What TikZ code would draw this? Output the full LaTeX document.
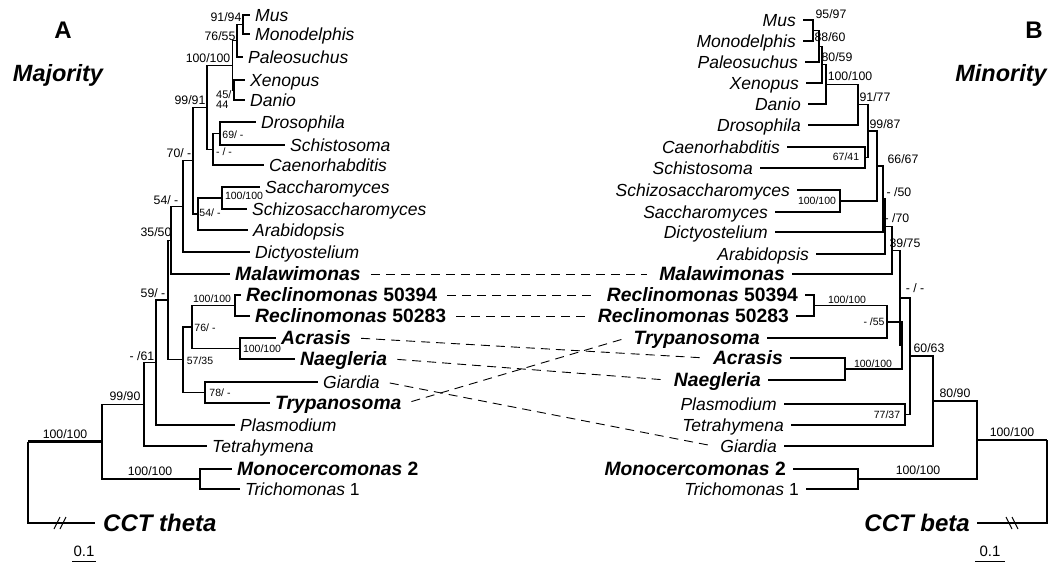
\documentclass[tikz,border=0pt]{standalone}
\usepackage{fontspec}
\setmainfont{Liberation Sans}
\begin{document}
\begin{tikzpicture}[x=1pt,y=-1pt,
  br/.style={line width=1.3pt},
  brthick/.style={line width=2.4pt},
  lf/.style={inner xsep=5pt, inner ysep=0pt, text height=12.5pt, text depth=0pt, font=\fontsize{17.5}{18}\selectfont\itshape},
  lfb/.style={inner xsep=5pt, inner ysep=0pt, text height=13.8pt, text depth=0pt, font=\fontsize{19.3}{20}\selectfont\bfseries\itshape},
  cct/.style={inner xsep=8pt, inner ysep=0pt, text height=17pt, text depth=0pt, font=\fontsize{24}{25}\selectfont\bfseries\itshape},
  atL/.style={anchor=west},
  atR/.style={anchor=east, inner xsep=7pt},
  bs/.style={inner sep=0pt, font=\fontsize{12.3}{13}\selectfont},
  bss/.style={inner sep=0pt, font=\fontsize{10.5}{11}\selectfont},
  sbar/.style={inner sep=0pt, font=\fontsize{15}{16}\selectfont},
  ttl/.style={inner sep=0pt, font=\fontsize{24}{25}\selectfont\bfseries},
  ttli/.style={inner sep=0pt, font=\fontsize{23.5}{24}\selectfont\bfseries\itshape},
  dl/.style={line width=0.9pt, dash pattern=on 9pt off 6pt, shorten <=5pt, shorten >=5pt},
  brk/.style={line width=1pt}
]
\useasboundingbox (0,0) rectangle (1061,566);

% ---------- titles ----------
\node[ttl] (tA) at (63,30) {A};
\node[ttli] (tMaj) at (58,75) {Majority};
\node[ttl] (tB) at (1034,30) {B};
\node[ttli] (tMin) at (1001,75) {Minority};

% ---------- left leaves ----------
\node[lf,atL] (lMus) at (250,15) {Mus};
\node[lf,atL] (lMon) at (250,34) {Monodelphis};
\node[lf,atL] (lPal) at (243,57) {Paleosuchus};
\node[lf,atL] (lXen) at (245,80) {Xenopus};
\node[lf,atL] (lDan) at (245,100) {Danio};
\node[lf,atL] (lDro) at (256,122) {Drosophila};
\node[lf,atL] (lSch) at (285,145) {Schistosoma};
\node[lf,atL] (lCae) at (264,165) {Caenorhabditis};
\node[lf,atL] (lSac) at (260,187) {Saccharomyces};
\node[lf,atL] (lSzs) at (247,209) {Schizosaccharomyces};
\node[lf,atL] (lAra) at (248,230) {Arabidopsis};
\node[lf,atL] (lDic) at (250,252) {Dictyostelium};
\node[lfb,atL] (lMal) at (230,274) {Malawimonas};
\node[lfb,atL] (lRe4) at (241,295) {Reclinomonas \upshape 50394};
\node[lfb,atL] (lRe3) at (250,316) {Reclinomonas \upshape 50283};
\node[lfb,atL] (lAcr) at (276,338) {Acrasis};
\node[lfb,atL] (lNae) at (295,359) {Naegleria};
\node[lf,atL] (lGia) at (318,382) {Giardia};
\node[lfb,atL] (lTry) at (270,403) {Trypanosoma};
\node[lf,atL] (lPla) at (235,425) {Plasmodium};
\node[lf,atL] (lTet) at (207,446) {Tetrahymena};
\node[lfb,atL] (lMoc) at (232,469) {Monocercomonas \upshape 2};
\node[lf,atL] (lTri) at (240,489) {Trichomonas \upshape 1};
\node[cct,atL] (lCCT) at (95,523) {CCT theta};

% ---------- left internal nodes ----------
\coordinate (L1) at (243,24.5);
\coordinate (L2) at (237,40.8);
\coordinate (L3) at (234,90);
\coordinate (L4) at (232.5,65.4);
\coordinate (L5) at (220,133.5);
\coordinate (L6) at (213,149.3);
\coordinate (L7) at (207,107.3);
\coordinate (L8) at (222,198);
\coordinate (L9) at (198,214);
\coordinate (L10) at (193,160.6);
\coordinate (L11) at (183,206.3);
\coordinate (L12) at (171,240.2);
\coordinate (L13) at (235,305.5);
\coordinate (L14) at (240,348.5);
\coordinate (L15) at (192,327);
\coordinate (L16) at (205,392.5);
\coordinate (L17) at (183,359.7);
\coordinate (L18) at (168,300);
\coordinate (L19) at (156,362.5);
\coordinate (L20) at (144,404.2);
\coordinate (L21) at (200,479);
\coordinate (L22) at (102,441.6);
\coordinate (L23) at (28,441.6);

\foreach \p/\c in {L1/lMus.west, L1/lMon.west, L2/L1, L2/lPal.west,
  L3/lXen.west, L3/lDan.west, L4/L2, L4/L3, L5/lDro.west, L5/lSch.west,
  L6/L5, L6/lCae.west, L7/L4, L7/L6, L8/lSac.west, L8/lSzs.west,
  L9/L8, L9/lAra.west, L10/L7, L10/L9, L11/L10, L11/lDic.west,
  L12/L11, L12/lMal.west, L13/lRe4.west, L13/lRe3.west,
  L14/lAcr.west, L14/lNae.west, L15/L13, L15/L14, L16/lGia.west, L16/lTry.west,
  L17/L15, L17/L16, L18/L12, L18/L17, L19/L18, L19/lPla.west,
  L20/L19, L20/lTet.west, L21/lMoc.west, L21/lTri.west, L22/L20, L22/L21,
  L23/lCCT.west}
  \draw[br] (\p) |- (\c);
\draw[brthick] (L23) -- (L22);

% break mark left
\coordinate (bkL) at (61,523);
\draw[brk] ([shift={(-7,6)}]bkL) -- ([shift={(-1,-6)}]bkL);
\draw[brk] ([shift={(-1,6)}]bkL) -- ([shift={(5,-6)}]bkL);

% ---------- left support values ----------
\node[bs] (b1) at (226,17) {91/94};
\node[bs] (b2) at (220,36) {76/55};
\node[bs] (b3) at (208,58) {100/100};
\node[bss, align=left, anchor=west, font=\fontsize{11}{10}\selectfont] (b4) at (216,100) {45/\\44};
\node[bs] (b5) at (190,100) {99/91};
\node[bss] (b6) at (233,135) {69/ -};
\node[bss] (b7) at (224,152) {- / -};
\node[bs] (b8) at (179,153) {70/ -};
\node[bss] (b9) at (244,196) {100/100};
\node[bss] (b10) at (210,213) {54/ -};
\node[bs] (b11) at (166,200) {54/ -};
\node[bs] (b12) at (156,232) {35/50};
\node[bs] (b13) at (153,293) {59/ -};
\node[bss] (b14) at (212,299) {100/100};
\node[bss] (b15) at (205,328) {76/ -};
\node[bss] (b16) at (262,349) {100/100};
\node[bss] (b17) at (200,361) {57/35};
\node[bss] (b18) at (220,393) {78/ -};
\node[bs] (b19) at (142,356) {- /61};
\node[bs] (b20) at (125,396) {99/90};
\node[bs] (b21) at (65,434) {100/100};
\node[bs] (b22) at (150,471) {100/100};

% scale bar left
\node[sbar] (sL) at (84,551) {0.1};
\draw[line width=1pt] ([shift={(-12,10)}]sL.center) -- ([shift={(12,10)}]sL.center);

% ---------- right leaves ----------
\node[lf,atR] (rMus) at (803,20) {Mus};
\node[lf,atR] (rMon) at (803,41) {Monodelphis};
\node[lf,atR] (rPal) at (805,62) {Paleosuchus};
\node[lf,atR] (rXen) at (806,83) {Xenopus};
\node[lf,atR] (rDan) at (808,104) {Danio};
\node[lf,atR] (rDro) at (808,125) {Drosophila};
\node[lf,atR] (rCae) at (787,147) {Caenorhabditis};
\node[lf,atR] (rSch) at (760,168) {Schistosoma};
\node[lf,atR] (rSzs) at (797,190) {Schizosaccharomyces};
\node[lf,atR] (rSac) at (775,212) {Saccharomyces};
\node[lf,atR] (rDic) at (775,232) {Dictyostelium};
\node[lf,atR] (rAra) at (816,254) {Arabidopsis};
\node[lfb,atR] (rMal) at (792,274) {Malawimonas};
\node[lfb,atR] (rRe4) at (805,295) {Reclinomonas \upshape 50394};
\node[lfb,atR] (rRe3) at (796,316) {Reclinomonas \upshape 50283};
\node[lfb,atR] (rTry) at (767,338) {Trypanosoma};
\node[lfb,atR] (rAcr) at (790,358) {Acrasis};
\node[lfb,atR] (rNae) at (768,380) {Naegleria};
\node[lf,atR] (rPla) at (784,404) {Plasmodium};
\node[lf,atR] (rTet) at (791,425) {Tetrahymena};
\node[lf,atR] (rGia) at (784,446) {Giardia};
\node[lfb,atR] (rMoc) at (793,469) {Monocercomonas \upshape 2};
\node[lf,atR] (rTri) at (806,489) {Trichomonas \upshape 1};
\node[cct,atR] (rCCT) at (977,523) {CCT beta};

% ---------- right internal nodes ----------
\coordinate (R1) at (813,30.5);
\coordinate (R2) at (819,46.3);
\coordinate (R3) at (822,64.6);
\coordinate (R4) at (826,84.3);
\coordinate (R5) at (858,104.6);
\coordinate (R6) at (865,157.5);
\coordinate (R7) at (868,131);
\coordinate (R8) at (840,201);
\coordinate (R9) at (877,166);
\coordinate (R10) at (883,199);
\coordinate (R11) at (885,226.5);
\coordinate (R12) at (892,250.3);
\coordinate (R13) at (814,305.5);
\coordinate (R14) at (887,322);
\coordinate (R15) at (845,369);
\coordinate (R16) at (902,345.5);
\coordinate (R17) at (900,298);
\coordinate (R18) at (905,414.5);
\coordinate (R19) at (910,356);
\coordinate (R20) at (933,401);
\coordinate (R21) at (858,479);
\coordinate (R22) at (977,440);
\coordinate (R23) at (1047,440);

\foreach \p/\c in {R1/rMus.east, R1/rMon.east, R2/R1, R2/rPal.east,
  R3/R2, R3/rXen.east, R4/R3, R4/rDan.east, R5/R4, R5/rDro.east,
  R6/rCae.east, R6/rSch.east, R7/R5, R7/R6, R8/rSzs.east, R8/rSac.east,
  R9/R7, R9/R8, R10/R9, R10/rDic.east, R11/R10, R11/rAra.east,
  R12/R11, R12/rMal.east, R13/rRe4.east, R13/rRe3.east, R14/R13, R14/rTry.east,
  R15/rAcr.east, R15/rNae.east, R16/R14, R16/R15, R17/R12, R17/R16,
  R18/rPla.east, R18/rTet.east, R19/R17, R19/R18, R20/R19, R20/rGia.east,
  R21/rMoc.east, R21/rTri.east, R22/R20, R22/R21, R23/R22, R23/rCCT.east}
  \draw[br] (\p) |- (\c);

% break mark right
\coordinate (bkR) at (1012,523);
\draw[brk] ([shift={(-6,-6)}]bkR) -- ([shift={(0,6)}]bkR);
\draw[brk] ([shift={(0,-6)}]bkR) -- ([shift={(6,6)}]bkR);

% ---------- right support values ----------
\node[bs] (c1) at (831,14) {95/97};
\node[bs] (c2) at (830,37) {88/60};
\node[bs] (c3) at (837,57) {80/59};
\node[bs] (c4) at (850,76) {100/100};
\node[bs] (c5) at (875,97) {91/77};
\node[bs] (c6) at (885,124) {99/87};
\node[bss] (c7) at (846,157) {67/41};
\node[bs] (c8) at (903,159) {66/67};
\node[bss] (c9) at (817,201) {100/100};
\node[bs] (c10) at (899,192) {- /50};
\node[bs] (c11) at (897,218) {- /70};
\node[bs] (c12) at (905,243) {39/75};
\node[bs] (c13) at (915,288) {- / -};
\node[bss] (c14) at (847,300) {100/100};
\node[bss] (c15) at (874,322) {- /55};
\node[bss] (c16) at (873,364) {100/100};
\node[bs] (c17) at (929,348) {60/63};
\node[bss] (c18) at (887,415) {77/37};
\node[bs] (c19) at (955,393) {80/90};
\node[bs] (c20) at (918,470) {100/100};
\node[bs] (c21) at (1012,432) {100/100};

% scale bar right
\node[sbar] (sR) at (990,551) {0.1};
\draw[line width=1pt] ([shift={(-15,10)}]sR.center) -- ([shift={(15,10)}]sR.center);

% ---------- dashed correspondences ----------
\draw[dl] (lMal.east) -- (rMal.west);
\draw[dl] (lRe4.east) -- (rRe4.west);
\draw[dl] (lRe3.east) -- (rRe3.west);
\draw[dl] (lAcr.east) -- (rAcr.west);
\draw[dl] (lNae.east) -- (rNae.west);
\draw[dl] (lGia.east) -- (rGia.west);
\draw[dl] (lTry.east) -- (rTry.west);
\end{tikzpicture}
\end{document}
